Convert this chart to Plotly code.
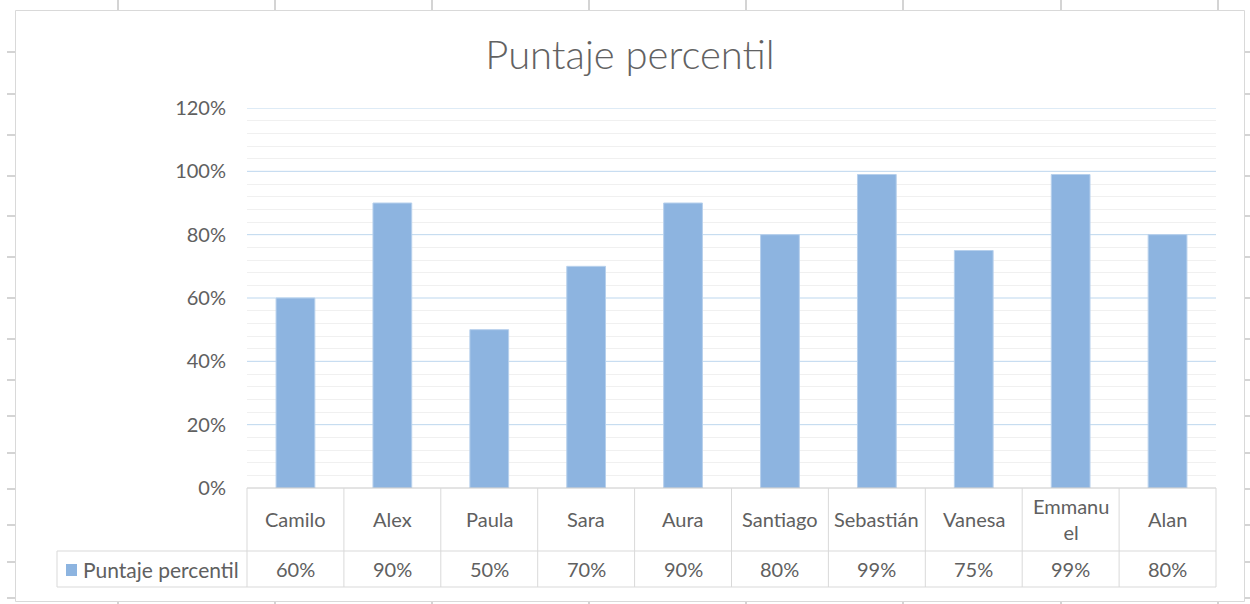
import plotly.graph_objects as go

# ---- data ----
categories = ["Camilo", "Alex", "Paula", "Sara", "Aura", "Santiago",
              "Sebastián", "Vanesa", "Emmanuel", "Alan"]
table_labels = ["Camilo", "Alex", "Paula", "Sara", "Aura", "Santiago",
                "Sebastián", "Vanesa", "Emmanu<br>el", "Alan"]
values = [0.60, 0.90, 0.50, 0.70, 0.90, 0.80, 0.99, 0.75, 0.99, 0.80]
value_labels = ["60%", "90%", "50%", "70%", "90%", "80%", "99%", "75%", "99%", "80%"]
y_ticks = [0.2, 0.4, 0.6, 0.8, 1.0, 1.2]
series_name = "Puntaje percentil"
title_text = "Puntaje percentil"

# ---- layout geometry (pixels) ----
W, H = 1250, 604
PL, PR, PT, PB = 247, 1216, 108, 488   # plot area
PW, PH = PR - PL, PB - PT

def px(x):  # pixel x -> paper
    return (x - PL) / PW

def py(y):  # pixel y -> paper
    return (PB - y) / PH

FONT = "Lato"
TXT = "#606060"
GRID_TABLE = "#D9D9D9"
BAR = "#8DB4E0"
MAJOR = "#BDD7EE"
LBL = 20

fig = go.Figure()
fig.add_trace(go.Bar(
    x=categories, y=values, name=series_name,
    marker=dict(color=BAR, line=dict(color="#B7D0EC", width=1)),
    showlegend=False,
))

shapes = []
n = len(categories)

def line(x0, y0, x1, y1, xref="paper", yref="paper", color=GRID_TABLE, width=1, layer="above"):
    shapes.append(dict(type="line", xref=xref, yref=yref, x0=x0, y0=y0, x1=x1, y1=y1,
                       line=dict(color=color, width=width), layer=layer))

# major gridlines (light blue), drawn beneath the bars
for v in y_ticks:
    line(0, v, 1, v, xref="paper", yref="y", color=MAJOR, width=1, layer="below")

# chart outer border
shapes.append(dict(type="rect", xref="paper", yref="paper",
                   x0=px(15.5), x1=px(1244.5), y0=py(10.5), y1=py(601.5),
                   line=dict(color="#D9D9D9", width=1), fillcolor="rgba(0,0,0,0)",
                   layer="below"))

# spreadsheet cell ticks outside the chart
for xx in [118, 275, 432, 589, 746, 903, 1061, 1218]:
    line(px(xx), py(0), px(xx), py(10), color="#D4D4D4", width=2)
    line(px(xx), py(602), px(xx), py(604), color="#D4D4D4", width=2)
for yy in [52, 94, 135, 176, 216, 257, 298, 339, 380, 416, 453, 489, 525, 562, 598]:
    line(px(7), py(yy), px(15), py(yy), color="#D4D4D4", width=2)
    line(px(1245), py(yy), px(1250), py(yy), color="#D4D4D4", width=2)

# data table lines
line(px(PL), py(488), px(PR), py(488), color="#C8C8C8")
line(px(57), py(551), px(PR), py(551))
line(px(57), py(587), px(PR), py(587))
line(px(57), py(551), px(57), py(587))
for k in range(n + 1):
    xk = px(PL + PW * k / n)
    line(xk, py(488), xk, py(587))

annotations = []
for cat, lab, vl in zip(categories, table_labels, value_labels):
    annotations.append(dict(x=cat, xref="x", y=py(519), yref="paper", text=lab,
                             showarrow=False, font=dict(family=FONT, size=LBL, color=TXT),
                             xanchor="center", yanchor="middle"))
    annotations.append(dict(x=cat, xref="x", y=py(569), yref="paper", text=vl,
                             showarrow=False, font=dict(family=FONT, size=LBL, color=TXT),
                             xanchor="center", yanchor="middle"))

# legend key in table
shapes.append(dict(type="rect", xref="paper", yref="paper",
                   x0=px(66), x1=px(77), y0=py(576), y1=py(564),
                   fillcolor=BAR, line=dict(width=0), layer="above"))
annotations.append(dict(x=px(81), xref="paper", y=py(569), yref="paper", text=series_name,
                         showarrow=False, font=dict(family=FONT, size=LBL + 1, color=TXT),
                         xanchor="left", yanchor="middle"))

minor_vals = [round(i * 0.04, 2) for i in range(31) if i % 5 != 0]

fig.update_layout(
    width=W, height=H,
    margin=dict(l=PL, r=W - PR, t=PT, b=H - PB, pad=0),
    paper_bgcolor="white", plot_bgcolor="white",
    bargap=0.6,
    title=dict(text=title_text, x=630 / W, xref="container", y=1 - 55 / H, yref="container",
               xanchor="center", yanchor="middle",
               font=dict(family=FONT, size=40, color="#626262", weight=300)),
    xaxis=dict(showticklabels=False, showgrid=False, showline=False, zeroline=False,
               ticks="", fixedrange=True),
    yaxis=dict(range=[0, 1.2], tickmode="array", tickvals=[0] + y_ticks, tickformat=".0%",
               showgrid=False,
               zeroline=False, showline=False, ticks="",
               ticklabelstandoff=20,
               tickfont=dict(family=FONT, size=LBL, color=TXT),
               minor=dict(tickmode="array", tickvals=minor_vals, showgrid=True,
                          gridcolor="#F0F0F0", gridwidth=1)),
    shapes=shapes,
    annotations=annotations,
    showlegend=False,
)

fig.write_html("out.html")
